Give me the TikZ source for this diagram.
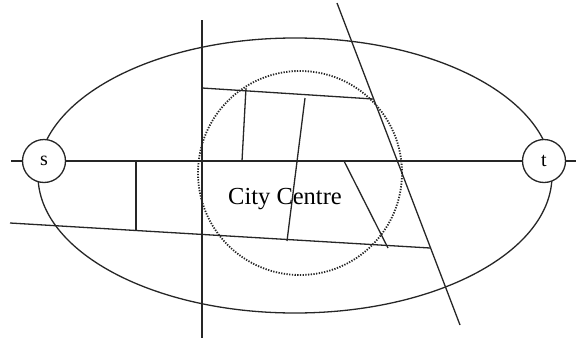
\documentclass[tikz,border=0pt]{standalone}
\usepackage{fontspec}
\setmainfont{Liberation Serif}
\usetikzlibrary{positioning}

\begin{document}
\begin{tikzpicture}[
    x=1pt, y=-1pt,
    road/.style={draw=black!85, line width=1.3pt},
    terminal/.style={circle, draw=black!85, line width=1.3pt, fill=white,
                     minimum size=43pt, inner sep=0pt, font=\fontsize{20}{24}\selectfont},
    centre/.style={draw=black!85, line width=1.8pt, dash pattern=on 1.3pt off 1.4pt}
]
    \useasboundingbox (0,0) rectangle (578,343);

    % Ring road
    \draw[road] (295,175.5) ellipse [x radius=257pt, y radius=137.5pt];

    % City centre area
    \draw[centre] (300,173) circle [radius=102pt];

    % Road ends
    \coordinate (west) at (11,161);
    \coordinate (east) at (576,161);
    \coordinate (northA) at (202,20);
    \coordinate (southA) at (202,338);
    \coordinate (northB) at (337,3);
    \coordinate (southB) at (460,325);
    \coordinate (upL) at (202,88);
    \coordinate (upR) at (373,99);
    \coordinate (upM) at (246,88);
    \coordinate (midA) at (242,161);
    \coordinate (midTop) at (305,98);
    \coordinate (midBot) at (287,241);
    \coordinate (lowL) at (10,223);
    \coordinate (lowR) at (430,248);
    \coordinate (linkTop) at (136,161);
    \coordinate (linkBot) at (136,231);
    \coordinate (diagTop) at (344,161);
    \coordinate (diagBot) at (388,248);

    % Through roads
    \draw[road] (northA) -- (southA);
    \draw[road] (northB) -- (southB);
    \draw[road] (upL) -- (upR);
    \draw[road] (lowL) -- (lowR);

    % Side streets
    \draw[road] (upM) -- (midA);
    \draw[road] (midTop) -- (midBot);
    \draw[road] (linkTop) -- (linkBot);
    \draw[road] (diagTop) -- (diagBot);

    % Source and target
    \node[terminal] (s) at (44,161) {s};
    \node[terminal] (t) at (544,161) {t};

    % Main road
    \draw[road] (west) -- (s);
    \draw[road] (s) -- (t);
    \draw[road] (t) -- (east);

    % Label
    \node[anchor=base, inner sep=0pt, font=\fontsize{24.5}{29}\selectfont] (label) at (285,204) {City Centre};
\end{tikzpicture}
\end{document}
